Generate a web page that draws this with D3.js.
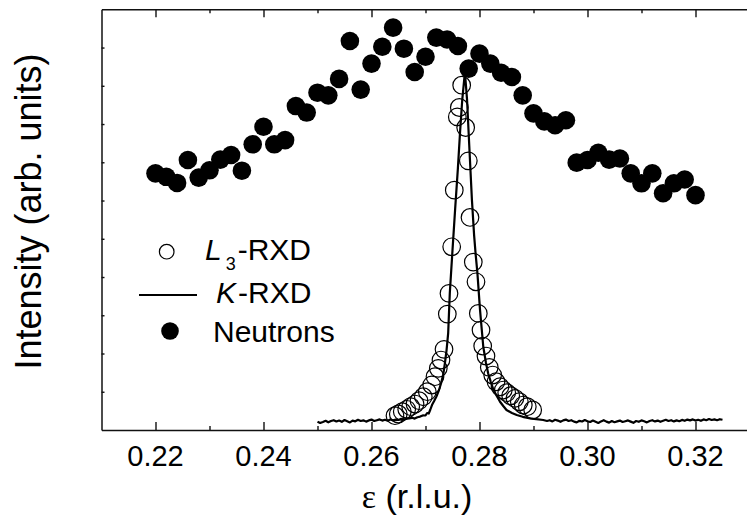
<!DOCTYPE html>
<html>
<head>
<meta charset="utf-8">
<script src="https://cdn.jsdelivr.net/npm/d3@7"></script>
<style>
  body { margin: 0; background: #fff; }
  svg { display: block; }
  text { font-family: "Liberation Sans", Arial, Helvetica, sans-serif; fill: #000; }
</style>
</head>
<body>
<svg id="chart" width="747" height="518"></svg>
<script>
// ---- axis ticks ----
const majorTicks  = [0.22, 0.24, 0.26, 0.28, 0.30, 0.32];
const majorLabels = ["0.22", "0.24", "0.26", "0.28", "0.30", "0.32"];
const minorTicks  = [0.23, 0.25, 0.27, 0.29, 0.31, 0.33];
const yTicks      = [0.1, 0.2, 0.3, 0.4, 0.5, 0.6, 0.7, 0.8, 0.9, 1.0];

// ---- series names ----
const seriesNames = ["L3-RXD", "K-RXD", "Neutrons"];

// ---- neutron diffraction (filled circles) ----
const neutronEps = [0.220, 0.222, 0.224, 0.226, 0.228, 0.230, 0.232, 0.234, 0.236, 0.238,
                    0.240, 0.242, 0.244, 0.246, 0.248, 0.250, 0.252, 0.254, 0.256, 0.258,
                    0.260, 0.262, 0.264, 0.266, 0.268, 0.270, 0.272, 0.274, 0.276, 0.278,
                    0.280, 0.282, 0.284, 0.286, 0.288, 0.290, 0.292, 0.294, 0.296, 0.298,
                    0.300, 0.302, 0.304, 0.306, 0.308, 0.310, 0.312, 0.314, 0.316, 0.318,
                    0.320];
const neutronInt = [0.671, 0.662, 0.646, 0.706, 0.660, 0.679, 0.707, 0.719, 0.678, 0.747,
                    0.793, 0.747, 0.758, 0.847, 0.830, 0.882, 0.875, 0.918, 1.017, 0.890,
                    0.958, 1.002, 1.052, 0.997, 0.936, 0.976, 1.026, 1.021, 1.004, 0.945,
                    0.984, 0.958, 0.934, 0.923, 0.875, 0.828, 0.807, 0.797, 0.810, 0.699,
                    0.706, 0.725, 0.707, 0.710, 0.671, 0.645, 0.671, 0.619, 0.645, 0.655,
                    0.614];

// ---- L3-edge resonant x-ray diffraction (open circles) ----
const l3Eps = [0.26435, 0.26496, 0.26570, 0.26652, 0.26726, 0.26806, 0.26880, 0.26959, 0.27033, 0.27115,
               0.27176, 0.27237, 0.27287, 0.27343, 0.27404, 0.27435, 0.27485, 0.27533, 0.27589, 0.27626,
               0.27670, 0.27744, 0.27793, 0.27824, 0.27885, 0.27935, 0.27978, 0.28028, 0.28059, 0.28120,
               0.28181, 0.28244, 0.28306, 0.28380, 0.28441, 0.28504, 0.28578, 0.28657, 0.28737, 0.28811,
               0.28885, 0.28985];
const l3Int = [0.0374, 0.0418, 0.0478, 0.0541, 0.0609, 0.0679, 0.0766, 0.0870, 0.1001, 0.1176,
               0.1393, 0.1612, 0.1829, 0.2109, 0.3031, 0.3572, 0.4790, 0.6271, 0.8187, 0.8432,
               0.9015, 0.7910, 0.7037, 0.5558, 0.4390, 0.3875, 0.3049, 0.2613, 0.2195, 0.1934,
               0.1638, 0.1437, 0.1262, 0.1131, 0.1045, 0.0975, 0.0896, 0.0828, 0.0739, 0.0653,
               0.0609, 0.0523];

// ---- K-edge resonant x-ray diffraction (solid line) ----
const kEps = [0.2500, 0.2505, 0.2510, 0.2515, 0.2520, 0.2525, 0.2530, 0.2535, 0.2540, 0.2545,
              0.2550, 0.2555, 0.2560, 0.2565, 0.2570, 0.2575, 0.2580, 0.2585, 0.2590, 0.2595,
              0.2600, 0.2605, 0.2610, 0.2615, 0.2620, 0.2625, 0.2630, 0.2635, 0.2640, 0.2645,
              0.2650, 0.2655, 0.2660, 0.2665, 0.2670, 0.2675, 0.2680, 0.2685, 0.2690, 0.2695,
              0.2700, 0.2703, 0.2706, 0.2709, 0.2712, 0.2716, 0.2720, 0.2725, 0.2729, 0.2733,
              0.2736, 0.2739, 0.2742, 0.2745, 0.2750, 0.2755, 0.2760, 0.2764, 0.2768, 0.2773,
              0.2777, 0.2781, 0.2786, 0.2790, 0.2793, 0.2796, 0.2801, 0.2807, 0.2812, 0.2816,
              0.2821, 0.2826, 0.2832, 0.2838, 0.2844, 0.2850, 0.2860, 0.2869, 0.2880, 0.2894,
              0.2905, 0.2918,
              0.2925, 0.2930, 0.2935, 0.2940, 0.2945, 0.2950, 0.2955, 0.2960, 0.2965, 0.2970,
              0.2975, 0.2980, 0.2985, 0.2990, 0.2995, 0.3000, 0.3005, 0.3010, 0.3015, 0.3020,
              0.3025, 0.3030, 0.3035, 0.3040, 0.3045, 0.3050, 0.3055, 0.3060, 0.3065, 0.3070,
              0.3075, 0.3080, 0.3085, 0.3090, 0.3095, 0.3100, 0.3105, 0.3110, 0.3115, 0.3120,
              0.3125, 0.3130, 0.3135, 0.3140, 0.3145, 0.3150, 0.3155, 0.3160, 0.3165, 0.3170,
              0.3175, 0.3180, 0.3185, 0.3190, 0.3195, 0.3200, 0.3205, 0.3210, 0.3215, 0.3220,
              0.3225, 0.3230, 0.3235, 0.3240, 0.3245, 0.3250];
const kInt = [0.0217, 0.0183, 0.0209, 0.0240, 0.0201, 0.0235, 0.0256, 0.0222, 0.0248, 0.0214,
              0.0261, 0.0230, 0.0199, 0.0246, 0.0227, 0.0267, 0.0235, 0.0253, 0.0219, 0.0251,
              0.0272, 0.0235, 0.0256, 0.0277, 0.0246, 0.0267, 0.0240, 0.0274, 0.0253, 0.0272,
              0.0261, 0.0293, 0.0274, 0.0298, 0.0306, 0.0319, 0.0298, 0.0334, 0.0350, 0.0382,
              0.0379, 0.0444, 0.0431, 0.0536, 0.0653, 0.0758, 0.0870, 0.1045, 0.1228, 0.1463,
              0.1751, 0.2090, 0.2535, 0.3580, 0.4703, 0.5801, 0.6846, 0.7787, 0.8623, 0.9355,
              0.8623, 0.7447, 0.6010, 0.5095, 0.4573, 0.4129, 0.3136, 0.2177, 0.1751, 0.1482,
              0.1254, 0.1045, 0.0888, 0.0739, 0.0627, 0.0523, 0.0444, 0.0392, 0.0345, 0.0306,
              0.0282, 0.0261,
              0.0235, 0.0256, 0.0225, 0.0267, 0.0246, 0.0214, 0.0251, 0.0272, 0.0235, 0.0256,
              0.0219, 0.0199, 0.0240, 0.0222, 0.0261, 0.0230, 0.0209, 0.0246, 0.0214, 0.0183,
              0.0225, 0.0256, 0.0219, 0.0193, 0.0235, 0.0204, 0.0225, 0.0246, 0.0209, 0.0230,
              0.0251, 0.0219, 0.0188, 0.0235, 0.0214, 0.0251, 0.0230, 0.0199, 0.0235, 0.0256,
              0.0225, 0.0246, 0.0214, 0.0240, 0.0267, 0.0235, 0.0256, 0.0225, 0.0251, 0.0230,
              0.0264, 0.0240, 0.0272, 0.0251, 0.0277, 0.0246, 0.0267, 0.0240, 0.0277, 0.0256,
              0.0287, 0.0261, 0.0277, 0.0256, 0.0282, 0.0267];

// ---- scales ----
const svg = d3.select("#chart");
const x = d3.scaleLinear().domain([0.21, 0.33]).range([101.5, 749.5]);
const y = d3.scaleLinear().domain([0, 1.1]).range([430, 9.3]);

const axisColor = "#111";
function styleAxis(g) {
  g.selectAll("path.domain").attr("stroke", axisColor).attr("stroke-width", 1.5);
  g.selectAll(".tick line").attr("stroke", axisColor).attr("stroke-width", 1.4);
  g.selectAll(".tick text").remove();
}

// bottom axis: major + minor ticks pointing inward
svg.append("g").attr("transform", `translate(0,${y(0)})`)
  .call(d3.axisBottom(x).tickValues(majorTicks).tickSizeInner(-8).tickSizeOuter(0).tickFormat(""))
  .call(styleAxis);
svg.append("g").attr("transform", `translate(0,${y(0)})`)
  .call(d3.axisBottom(x).tickValues(minorTicks).tickSizeInner(-4).tickSizeOuter(0).tickFormat(""))
  .call(g => g.select("path.domain").remove())
  .call(styleAxis);

// top axis
svg.append("g").attr("transform", `translate(0,${y(1.1)})`)
  .call(d3.axisTop(x).tickValues(majorTicks).tickSizeInner(-8).tickSizeOuter(0).tickFormat(""))
  .call(styleAxis);
svg.append("g").attr("transform", `translate(0,${y(1.1)})`)
  .call(d3.axisTop(x).tickValues(minorTicks).tickSizeInner(-4).tickSizeOuter(0).tickFormat(""))
  .call(g => g.select("path.domain").remove())
  .call(styleAxis);

// left axis: short unlabeled ticks
svg.append("g").attr("transform", `translate(${x(0.21)},0)`)
  .call(d3.axisLeft(y).tickValues(yTicks).tickSizeInner(-3).tickSizeOuter(0).tickFormat(""))
  .call(styleAxis);

// x tick labels
svg.append("g").selectAll("text")
  .data(majorTicks)
  .join("text")
  .attr("x", d => x(d))
  .attr("y", 466)
  .attr("text-anchor", "middle")
  .attr("font-size", 29)
  .text((d, i) => majorLabels[i]);

// axis titles
const xt = svg.append("text")
  .attr("x", 417)
  .attr("y", 508)
  .attr("text-anchor", "middle")
  .attr("font-size", 34);
xt.append("tspan").attr("font-family", "'Liberation Serif', 'DejaVu Serif', serif").text("ε");
xt.append("tspan").text(" (r.l.u.)");

svg.append("text")
  .attr("transform", "translate(41,211.5) rotate(-90)")
  .attr("text-anchor", "middle")
  .attr("font-size", 36)
  .text("Intensity (arb. units)");

// K-RXD scan
const kData = kEps.map((e, i) => [e, kInt[i]]);
svg.append("path")
  .datum(kData)
  .attr("fill", "none")
  .attr("stroke", "#000")
  .attr("stroke-width", 2.2)
  .attr("stroke-linejoin", "round")
  .attr("d", d3.line().x(d => x(d[0])).y(d => y(d[1])));

// L3-RXD open circles
svg.append("g").selectAll("circle")
  .data(l3Eps.map((e, i) => [e, l3Int[i]]))
  .join("circle")
  .attr("cx", d => x(d[0]))
  .attr("cy", d => y(d[1]))
  .attr("r", 8.8)
  .attr("fill", "none")
  .attr("stroke", "#000")
  .attr("stroke-width", 1.2);

// neutron filled circles
svg.append("g").selectAll("circle")
  .data(neutronEps.map((e, i) => [e, neutronInt[i]]))
  .join("circle")
  .attr("cx", d => x(d[0]))
  .attr("cy", d => y(d[1]))
  .attr("r", 9.3)
  .attr("fill", "#000");

// legend
const leg = svg.append("g");
leg.append("circle").attr("cx", 166.7).attr("cy", 251.7).attr("r", 7.3)
  .attr("fill", "none").attr("stroke", "#000").attr("stroke-width", 1.2);
const t1 = leg.append("text").attr("x", 205).attr("y", 260).attr("font-size", 30);
t1.append("tspan").attr("font-style", "italic").text(seriesNames[0].slice(0, 1));
t1.append("tspan").attr("font-size", 18).attr("dy", 10).attr("dx", 4).text(seriesNames[0].slice(1, 2));
t1.append("tspan").attr("dy", -10).attr("dx", 2).text(seriesNames[0].slice(2));

leg.append("line").attr("x1", 139).attr("x2", 197).attr("y1", 295).attr("y2", 295)
  .attr("stroke", "#000").attr("stroke-width", 2.2);
const t2 = leg.append("text").attr("x", 216).attr("y", 303).attr("font-size", 30);
t2.append("tspan").attr("font-style", "italic").text(seriesNames[1].slice(0, 1));
t2.append("tspan").attr("dx", 2).text(seriesNames[1].slice(1));

leg.append("circle").attr("cx", 170).attr("cy", 331).attr("r", 8.8).attr("fill", "#000");
leg.append("text").attr("x", 213).attr("y", 342).attr("font-size", 30).text(seriesNames[2]);
</script>
</body>
</html>
